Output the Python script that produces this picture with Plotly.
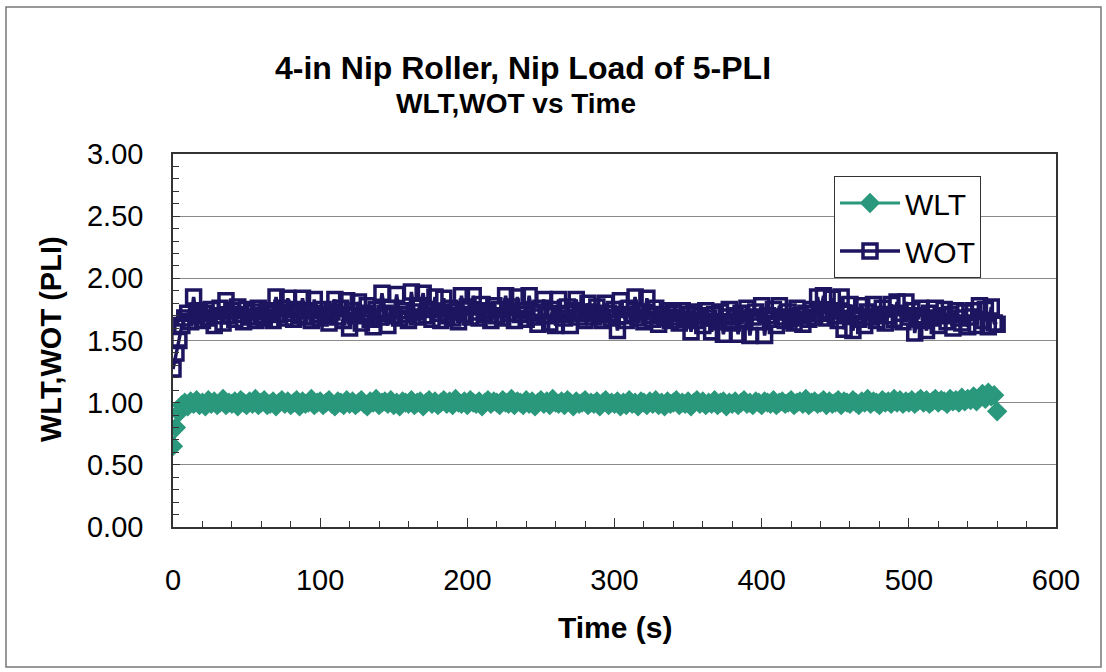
import plotly.graph_objects as go

# Sample times (s)
time_s = [0, 2, 4, 6, 8, 10, 12, 14, 16, 18, 20, 22, 24, 26, 28, 30, 32, 34, 36, 38,
          40, 42, 44, 46, 48, 50, 52, 54, 56, 58, 60, 62, 64, 66, 68, 70, 72, 74, 76, 78,
          80, 82, 84, 86, 88, 90, 92, 94, 96, 98, 100, 102, 104, 106, 108, 110, 112, 114, 116, 118,
          120, 122, 124, 126, 128, 130, 132, 134, 136, 138, 140, 142, 144, 146, 148, 150, 152, 154, 156, 158,
          160, 162, 164, 166, 168, 170, 172, 174, 176, 178, 180, 182, 184, 186, 188, 190, 192, 194, 196, 198,
          200, 202, 204, 206, 208, 210, 212, 214, 216, 218, 220, 222, 224, 226, 228, 230, 232, 234, 236, 238,
          240, 242, 244, 246, 248, 250, 252, 254, 256, 258, 260, 262, 264, 266, 268, 270, 272, 274, 276, 278,
          280, 282, 284, 286, 288, 290, 292, 294, 296, 298, 300, 302, 304, 306, 308, 310, 312, 314, 316, 318,
          320, 322, 324, 326, 328, 330, 332, 334, 336, 338, 340, 342, 344, 346, 348, 350, 352, 354, 356, 358,
          360, 362, 364, 366, 368, 370, 372, 374, 376, 378, 380, 382, 384, 386, 388, 390, 392, 394, 396, 398,
          400, 402, 404, 406, 408, 410, 412, 414, 416, 418, 420, 422, 424, 426, 428, 430, 432, 434, 436, 438,
          440, 442, 444, 446, 448, 450, 452, 454, 456, 458, 460, 462, 464, 466, 468, 470, 472, 474, 476, 478,
          480, 482, 484, 486, 488, 490, 492, 494, 496, 498, 500, 502, 504, 506, 508, 510, 512, 514, 516, 518,
          520, 522, 524, 526, 528, 530, 532, 534, 536, 538, 540, 542, 544, 546, 548, 550, 552, 554, 556, 558,
          560]

wlt = [0.65, 0.80, 0.92, 0.98, 1.00, 0.97, 1.01, 0.99, 1.02, 0.98,
       1.00, 0.97, 1.02, 0.99, 1.01, 0.98, 1.00, 1.03, 0.98, 1.00,
       0.99, 1.01, 0.97, 1.02, 1.00, 0.98, 1.01, 0.99, 1.03, 0.98,
       1.00, 1.02, 0.98, 0.99, 1.01, 0.97, 1.00, 1.02, 0.99, 1.01,
       0.98, 1.00, 1.02, 0.97, 1.01, 0.99, 1.00, 1.03, 0.98, 1.00,
       1.01, 0.98, 1.00, 1.02, 0.99, 0.97, 1.01, 1.00, 0.98, 1.02,
       0.99, 1.01, 0.98, 1.00, 1.02, 0.99, 0.97, 1.01, 1.00, 1.03,
       0.98, 1.00, 1.01, 0.99, 1.02, 0.98, 1.00, 0.97, 1.01, 1.00,
       0.99, 1.02, 0.98, 1.00, 1.01, 0.97, 1.00, 1.02, 0.99, 1.01,
       0.98, 1.00, 1.02, 0.99, 1.01, 0.98, 1.03, 1.00, 0.99, 1.01,
       0.98, 1.02, 1.00, 0.99, 1.01, 0.97, 1.00, 1.02, 0.99, 1.01,
       1.00, 0.98, 1.02, 1.00, 0.99, 1.03, 0.98, 1.01, 1.00, 0.98,
       1.02, 0.99, 1.01, 0.97, 1.00, 1.02, 0.99, 1.01, 0.98, 1.03,
       1.00, 0.99, 1.01, 0.98, 1.02, 1.00, 0.97, 1.01, 0.99, 1.00,
       1.02, 0.98, 1.00, 0.99, 1.01, 0.97, 1.00, 1.02, 0.98, 1.00,
       0.99, 1.01, 0.97, 1.00, 0.98, 1.02, 0.99, 1.00, 0.97, 1.01,
       1.00, 0.98, 1.01, 0.99, 1.02, 0.98, 1.00, 0.97, 1.01, 0.99,
       1.00, 1.02, 0.98, 1.00, 0.99, 1.01, 0.97, 1.00, 1.02, 0.99,
       1.01, 0.98, 1.00, 0.99, 1.02, 0.98, 1.00, 1.01, 0.97, 1.00,
       0.99, 1.01, 0.98, 1.00, 1.02, 0.99, 1.00, 0.98, 1.01, 1.00,
       0.98, 1.01, 1.00, 0.99, 1.02, 0.98, 1.00, 1.01, 0.99, 1.00,
       1.02, 0.98, 1.00, 1.01, 0.99, 1.03, 0.98, 1.00, 1.01, 0.99,
       1.00, 1.02, 0.98, 1.01, 0.99, 1.00, 1.02, 0.98, 1.01, 1.00,
       0.99, 1.02, 1.00, 0.98, 1.01, 1.00, 1.03, 0.99, 1.01, 1.00,
       0.98, 1.02, 1.00, 1.01, 0.99, 1.03, 1.00, 1.02, 0.99, 1.01,
       1.00, 1.02, 0.99, 1.01, 1.03, 1.00, 1.02, 0.99, 1.01, 1.03,
       1.00, 1.02, 1.01, 0.99, 1.03, 1.01, 1.02, 1.00, 1.04, 1.01,
       1.03, 1.02, 1.05, 1.01, 1.04, 1.07, 1.03, 1.08, 1.05, 1.06,
       0.93]

wot = [1.27, 1.40, 1.50, 1.62, 1.68, 1.72, 1.65, 1.85, 1.70, 1.74,
       1.66, 1.72, 1.68, 1.75, 1.62, 1.70, 1.76, 1.64, 1.82, 1.70,
       1.74, 1.67, 1.77, 1.71, 1.65, 1.75, 1.69, 1.73, 1.66, 1.76,
       1.70, 1.68, 1.74, 1.72, 1.66, 1.85, 1.71, 1.76, 1.68, 1.84,
       1.72, 1.67, 1.75, 1.70, 1.84, 1.69, 1.74, 1.66, 1.83, 1.71,
       1.68, 1.75, 1.70, 1.64, 1.73, 1.83, 1.69, 1.76, 1.66, 1.82,
       1.60, 1.74, 1.70, 1.81, 1.64, 1.72, 1.78, 1.67, 1.61, 1.75,
       1.69, 1.88, 1.72, 1.62, 1.76, 1.70, 1.87, 1.68, 1.74, 1.71,
       1.66, 1.89, 1.73, 1.69, 1.78, 1.88, 1.70, 1.75, 1.67, 1.85,
       1.72, 1.66, 1.84, 1.70, 1.76, 1.68, 1.73, 1.65, 1.86, 1.71,
       1.77, 1.69, 1.86, 1.73, 1.68, 1.79, 1.71, 1.74, 1.66, 1.78,
       1.70, 1.75, 1.68, 1.86, 1.72, 1.77, 1.66, 1.85, 1.71, 1.74,
       1.67, 1.86, 1.73, 1.69, 1.63, 1.76, 1.83, 1.70, 1.64, 1.75,
       1.62, 1.83, 1.71, 1.68, 1.77, 1.62, 1.74, 1.83, 1.69, 1.72,
       1.66, 1.80, 1.73, 1.69, 1.77, 1.71, 1.66, 1.80, 1.72, 1.68,
       1.75, 1.58, 1.82, 1.70, 1.66, 1.76, 1.71, 1.85, 1.68, 1.73,
       1.65, 1.84, 1.70, 1.67, 1.76, 1.63, 1.71, 1.68, 1.74, 1.66,
       1.72, 1.69, 1.64, 1.74, 1.67, 1.71, 1.57, 1.73, 1.66, 1.70,
       1.62, 1.74, 1.68, 1.57, 1.71, 1.65, 1.73, 1.55, 1.69, 1.75,
       1.64, 1.70, 1.55, 1.72, 1.67, 1.76, 1.54, 1.69, 1.73, 1.65,
       1.78, 1.54, 1.70, 1.67, 1.75, 1.62, 1.78, 1.69, 1.66, 1.73,
       1.68, 1.64, 1.76, 1.70, 1.63, 1.72, 1.67, 1.75, 1.69, 1.85,
       1.72, 1.86, 1.68, 1.74, 1.84, 1.70, 1.66, 1.85, 1.59, 1.72,
       1.79, 1.58, 1.70, 1.67, 1.78, 1.62, 1.73, 1.69, 1.79, 1.66,
       1.71, 1.76, 1.64, 1.70, 1.79, 1.67, 1.81, 1.72, 1.65, 1.81,
       1.69, 1.74, 1.56, 1.70, 1.76, 1.66, 1.58, 1.72, 1.68, 1.76,
       1.62, 1.70, 1.75, 1.65, 1.71, 1.60, 1.74, 1.68, 1.64, 1.73,
       1.61, 1.69, 1.74, 1.62, 1.78, 1.66, 1.75, 1.61, 1.77, 1.64,
       1.63]

series_names = ["WLT", "WOT"]
x_tick_vals = [0, 100, 200, 300, 400, 500, 600]
y_tick_vals = [0.0, 0.5, 1.0, 1.5, 2.0, 2.5, 3.0]

TEAL = "#2a987c"
NAVY = "#1e1560"
FONT = "Liberation Sans, Arial, sans-serif"

fig = go.Figure()
fig.add_trace(go.Scatter(
    x=time_s, y=wlt, name=series_names[0], mode="lines+markers", legendgroup="a",
    line=dict(color=TEAL, width=3),
    marker=dict(symbol="diamond", size=14, color=TEAL, line=dict(color=TEAL, width=1.5)),
))
fig.add_trace(go.Scatter(
    x=time_s, y=wot, name=series_names[1], mode="lines+markers", legendgroup="b",
    line=dict(color=NAVY, width=3.5),
    marker=dict(symbol="square-open", size=14, color=NAVY, line=dict(color=NAVY, width=3.5)),
))

L, R, T, B = 173, 50, 154, 145
W, H = 1106, 672
pw, ph = W - L - R, H - T - B

def px_x(px):
    return (px - L) / pw

def px_y(py):
    return (H - B - py) / ph

fig.update_layout(
    width=W, height=H,
    margin=dict(l=L, r=R, t=T, b=B),
    paper_bgcolor="white", plot_bgcolor="white",
    font=dict(family=FONT, color="black", size=29),
    showlegend=True,
    legend=dict(
        x=px_x(834), y=px_y(176), xanchor="left", yanchor="top",
        bgcolor="white", bordercolor="#333333", borderwidth=1,
        font=dict(family=FONT, size=30, color="black"),
        itemwidth=60, tracegroupgap=6,
    ),
    xaxis=dict(
        range=[0, 600], tickvals=x_tick_vals, showgrid=False, zeroline=False,
        showline=True, linecolor="#333333", linewidth=1.5, mirror=True,
        ticks="inside", ticklen=9, tickcolor="#333333",
        minor=dict(ticks="inside", ticklen=6, dtick=20, tickcolor="#333333", showgrid=False),
        tickfont=dict(family=FONT, size=29, color="black"),
        ticklabelstandoff=26,
    ),
    yaxis=dict(
        range=[0, 3], tickvals=y_tick_vals, tickformat=".2f",
        showgrid=True, gridcolor="#8a8a8a", gridwidth=1, zeroline=False,
        showline=True, linecolor="#333333", linewidth=1.5, mirror=True,
        ticks="inside", ticklen=7, tickcolor="#333333",
        minor=dict(ticks="inside", ticklen=6, dtick=0.1, tickcolor="#333333", showgrid=False),
        tickfont=dict(family=FONT, size=29, color="black"),
        ticklabelstandoff=22,
    ),
)

annotations = [
    dict(text="<b>4-in Nip Roller, Nip Load of 5-PLI</b>", x=px_x(523), y=px_y(68),
         xref="paper", yref="paper", showarrow=False, xanchor="center", yanchor="middle",
         font=dict(family=FONT, size=32, color="black")),
    dict(text="<b>WLT,WOT vs Time</b>", x=px_x(516), y=px_y(104),
         xref="paper", yref="paper", showarrow=False, xanchor="center", yanchor="middle",
         font=dict(family=FONT, size=28, color="black")),
    dict(text="<b>Time (s)</b>", x=px_x(615), y=px_y(627),
         xref="paper", yref="paper", showarrow=False, xanchor="center", yanchor="middle",
         font=dict(family=FONT, size=30, color="black")),
    dict(text="<b>WLT,WOT (PLI)</b>", x=px_x(51), y=px_y(339), textangle=-90,
         xref="paper", yref="paper", showarrow=False, xanchor="center", yanchor="middle",
         font=dict(family=FONT, size=29, color="black")),
]
fig.update_layout(annotations=annotations)

fig.add_shape(type="rect", xref="paper", yref="paper",
              x0=px_x(6), x1=px_x(1101), y0=px_y(667), y1=px_y(7),
              line=dict(color="#777777", width=1.5), fillcolor="rgba(0,0,0,0)", layer="below")

fig.write_html("out.html")
